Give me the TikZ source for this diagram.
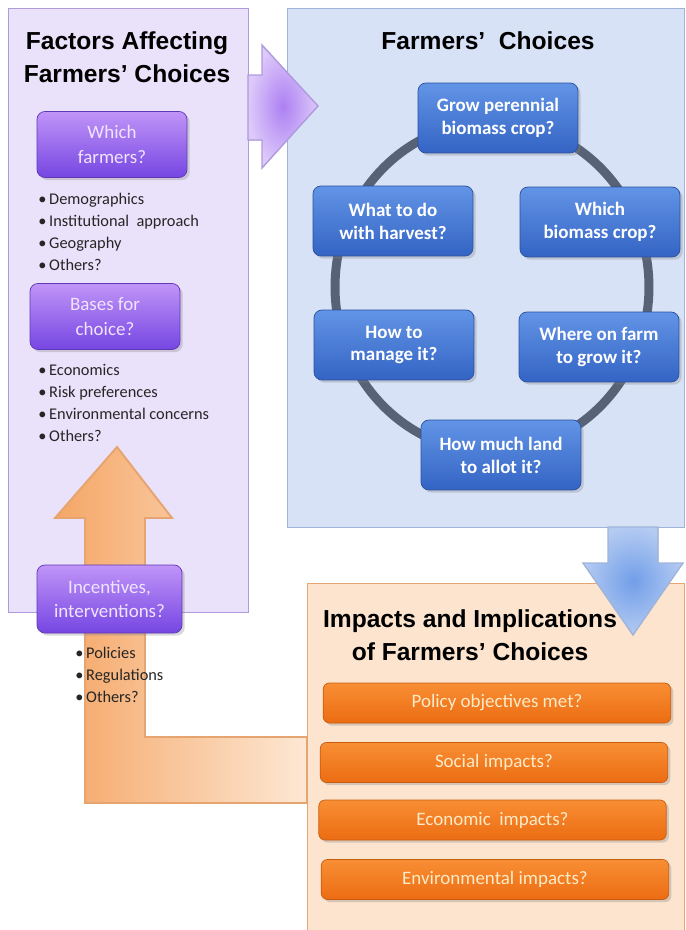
\documentclass[tikz,border=0pt]{standalone}
\usepackage{fontspec}
\setmainfont{Carlito}
\newfontfamily\headfont{Liberation Sans}
\usetikzlibrary{shadows}
\definecolor{lilac}{RGB}{234,225,250}
\definecolor{lilacedge}{RGB}{176,154,222}
\definecolor{skyback}{RGB}{215,226,247}
\definecolor{skyedge}{RGB}{160,180,218}
\definecolor{peach}{RGB}{252,228,206}
\definecolor{peachedge}{RGB}{230,165,112}
\definecolor{bluetop}{RGB}{98,148,230}
\definecolor{bluebot}{RGB}{52,100,196}
\definecolor{violtop}{RGB}{192,148,248}
\definecolor{violbot}{RGB}{118,70,226}
\definecolor{violtext}{RGB}{240,228,255}
\definecolor{ortop}{RGB}{248,142,52}
\definecolor{orbot}{RGB}{236,108,18}
\definecolor{ortext}{RGB}{253,234,198}
\definecolor{arrowor}{RGB}{245,166,102}
\definecolor{arrowpale}{RGB}{253,232,212}
\definecolor{ringgray}{RGB}{88,98,118}
\tikzset{>=stealth}
\tikzset{
  heading/.style={font=\headfont\bfseries\fontsize{14}{19}\selectfont, align=center, anchor=north, inner sep=0pt},
  boxshadow/.style={drop shadow={opacity=0.3, shadow xshift=1.5pt, shadow yshift=-1.5pt}},
  choice/.style={boxshadow, rounded corners=4.5pt, minimum width=3.2cm, minimum height=1.4cm, align=center,
    top color=bluetop, bottom color=bluebot, draw=bluebot!80!black, text=white,
    font=\bfseries\fontsize{10.8}{13}\selectfont},
  factor/.style={boxshadow, rounded corners=4.5pt, minimum width=3cm, minimum height=1.32cm, align=center,
    top color=violtop, bottom color=violbot, draw=violbot!80!black, text=violtext,
    font=\fontsize{10.8}{14.2}\selectfont},
  impact/.style={boxshadow, rounded corners=3.5pt, minimum width=6.95cm, minimum height=0.8cm,
    top color=ortop, bottom color=orbot, draw=orbot!85!black, text=ortext,
    font=\fontsize{10.8}{13}\selectfont},
  point/.style={anchor=base west, inner sep=0pt, font=\fontsize{9.3}{12.5}\selectfont, text=black!85},
}
\newcommand{\blt}{\makebox[6.2pt][l]{\textbullet}}

\begin{document}
\begin{tikzpicture}[x=0.02cm,y=-0.02cm]
\useasboundingbox (0,0) rectangle (686,930);

% three panels
\filldraw[fill=lilac, draw=lilacedge] (8,8) rectangle (248,612);
\filldraw[fill=skyback, draw=skyedge] (287,8) rectangle (684,527);
\filldraw[fill=peach, draw=peachedge] (307,583) rectangle (684,940);

\draw[ringgray, line width=5.1pt] (492,287) ellipse [x radius=3.14cm, y radius=3.3cm];%ring of choices

% block arrows
\filldraw[draw=lilacedge, line width=0.8pt, inner color=violtop!75!violbot, outer color=lilac!70!violtop]
  (248,75) -- (262,75) -- (262,45) -- (318,106) -- (262,168) -- (262,140) -- (248,140) -- cycle;
\filldraw[draw=skyedge, line width=0.8pt, inner color=bluetop!90!white, outer color=skyback!70!bluetop]
  (608,527) -- (658,527) -- (658,563) -- (683,563) -- (633,635) -- (583,563) -- (608,563) -- cycle;
\filldraw[draw=peachedge, line width=1.1pt, left color=arrowor, right color=arrowpale]
  (307,737) -- (145,737) -- (145,518) -- (172,518) -- (117,447) -- (55,518) -- (85,518) -- (85,803) -- (307,803) -- cycle;

% headings
\node[heading] (factors) at (127,31) {Factors Affecting\\Farmers’ Choices};
\node[heading] (choices) at (488,31) {Farmers’\ \ Choices};
\node[heading] (impacts) at (470,609) {Impacts and Implications\\of Farmers’ Choices};

% left column
\node[factor] (which) at (112,144.5) {Which\\farmers?};
\foreach \w [count=\i] in {Demographics, Institutional\ \ approach, Geography, Others?}
  \node[point] (who\i) at (38,181.7+22.3*\i) {\blt\w};
\node[factor] (bases) at (105,316.5) {Bases for\\choice?};
\foreach \w [count=\i] in {Economics, Risk preferences, Environmental concerns, Others?}
  \node[point] (why\i) at (38,352.7+22.3*\i) {\blt\w};
\node[factor, minimum width=2.9cm, minimum height=1.36cm] (incent) at (109.5,599) {Incentives,\\interventions?};
\foreach \w [count=\i] in {Policies, Regulations, Others?}
  \node[point] (tool\i) at (75,635.7+22.3*\i) {\blt\w};

% cycle of choices
\node[choice] (grow) at (498,118) {Grow perennial\\biomass crop?};
\node[choice] (crop) at (600,222) {Which\\biomass crop?};
\node[choice] (where) at (599,347) {Where on farm\\to grow it?};
\node[choice] (land) at (501,455) {How much land\\to allot it?};
\node[choice] (manage) at (394,345) {How to\\manage it?};
\node[choice] (harvest) at (393,221) {What to do\\with harvest?};

% impacts
\node[impact] (policy) at (497,703) {Policy objectives met?};
\node[impact] (social) at (494,762.5) {Social impacts?};
\node[impact] (econ) at (492.5,820) {Economic\ \ impacts?};
\node[impact] (env) at (495,879.5) {Environmental impacts?};
\end{tikzpicture}
\end{document}
